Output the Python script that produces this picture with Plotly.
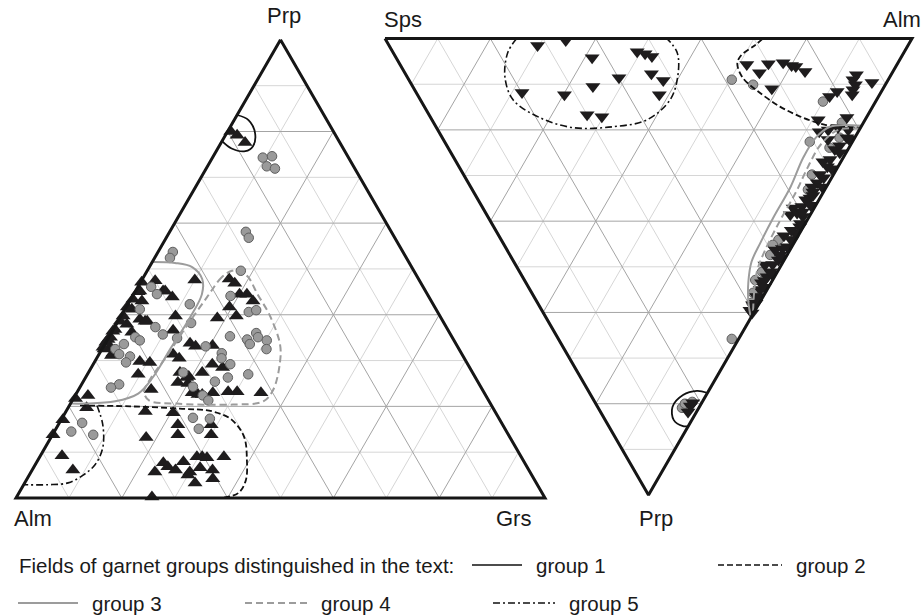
import math
import plotly.graph_objects as go

H = math.sqrt(3) / 2

# ---------------- garnet compositions (mol %) ----------------
# Prp - Alm - Grs diagram, tuples are (Prp, Alm, Grs)
left_triangles = [
    (80.0, 19.4, 0.6), (79.2, 18.6, 2.2), (77.6, 17.9, 4.5), (47.1, 52.7, 0.2),
    (47.4, 50.0, 2.6), (47.6, 42.4, 10.0), (45.2, 54.0, 0.8), (45.2, 49.6, 5.2),
    (43.9, 48.5, 7.6), (43.4, 56.2, 0.4), (43.0, 54.7, 2.3), (41.2, 57.5, 1.3),
    (39.7, 59.9, 0.4), (39.7, 50.0, 10.3), (39.0, 57.1, 3.9), (38.6, 55.9, 5.5),
    (37.9, 60.1, 2.0), (39.3, 42.3, 18.4), (47.8, 35.8, 16.4), (46.9, 35.2, 17.9),
    (44.5, 35.5, 20.0), (44.5, 34.1, 21.4), (43.0, 33.7, 23.3), (41.7, 38.8, 19.5),
    (39.7, 38.5, 21.8), (36.8, 62.9, 0.3), (36.6, 52.0, 11.4), (34.6, 65.3, 0.1),
    (32.9, 65.7, 1.4), (32.5, 67.1, 0.4), (31.6, 65.9, 2.5), (33.8, 50.2, 16.0),
    (33.1, 49.5, 17.4), (33.3, 46.2, 20.5), (31.4, 54.6, 14.0), (30.5, 53.9, 15.6),
    (29.8, 61.7, 8.5), (29.6, 59.9, 10.5), (29.2, 48.3, 22.5), (28.5, 46.7, 24.8),
    (27.0, 63.4, 9.6), (27.4, 55.3, 17.3), (26.5, 54.1, 19.4), (27.4, 51.1, 21.5),
    (25.2, 56.8, 18.0), (25.0, 55.0, 20.0), (23.7, 62.6, 13.7), (23.0, 55.2, 21.8),
    (22.6, 53.5, 23.9), (23.0, 51.3, 25.7), (23.2, 48.3, 28.5), (23.2, 46.6, 30.2),
    (23.0, 42.2, 34.8), (21.7, 77.9, 0.4), (22.4, 75.2, 2.4), (19.7, 76.8, 3.5),
    (18.9, 66.1, 15.0), (18.6, 61.0, 20.4), (16.0, 61.4, 22.6), (13.8, 62.5, 23.7),
    (16.0, 55.1, 28.9), (13.8, 56.2, 30.0), (13.2, 68.8, 18.0), (17.1, 82.6, 0.3),
    (13.8, 86.1, 0.1), (9.2, 86.7, 4.1), (6.1, 86.2, 7.7), (0.2, 74.2, 25.6),
    (5.7, 70.9, 23.4), (7.7, 68.3, 24.0), (6.8, 67.9, 25.3), (6.1, 66.8, 27.1),
    (7.9, 64.4, 27.7), (5.7, 64.3, 30.0), (9.0, 61.3, 29.7), (9.0, 60.3, 30.7),
    (8.8, 59.5, 31.7), (6.6, 61.9, 31.5), (6.1, 59.8, 34.1), (9.0, 56.2, 34.8),
    (3.3, 64.5, 32.2), (4.2, 60.7, 35.1), (5.0, 65.0, 30.0), (45.0, 54.4, 0.6),
    (41.7, 58.1, 0.2), (38.6, 61.0, 0.4), (36.4, 63.5, 0.1), (35.1, 64.6, 0.3),
    (34.0, 66.0, 0.0), (32.9, 67.1, 0.0), (31.1, 66.4, 2.5), (36.2, 60.0, 3.8),
    (45.2, 49.2, 5.6), (38.6, 56.3, 5.1), (22.6, 54.3, 23.1), (26.3, 54.6, 19.1),
]

left_circles = [
    (74.3, 16.2, 9.5), (74.6, 14.3, 11.1), (72.4, 16.4, 11.2), (71.9, 15.1, 13.0),
    (58.1, 27.5, 14.4), (56.8, 27.6, 15.6), (53.7, 43.5, 2.8), (52.4, 44.7, 2.9),
    (49.6, 32.7, 17.7), (46.1, 51.4, 2.5), (44.5, 51.1, 4.4), (44.1, 37.4, 18.5),
    (42.3, 46.0, 11.7), (41.2, 56.0, 2.8), (40.6, 35.7, 23.7), (41.0, 34.1, 24.9),
    (38.2, 47.8, 14.0), (37.3, 55.0, 7.7), (35.7, 54.4, 9.9), (35.1, 59.9, 5.0),
    (34.4, 59.4, 6.2), (34.9, 52.1, 13.0), (35.3, 41.9, 22.8), (34.6, 39.0, 26.4),
    (36.0, 36.6, 27.4), (35.1, 36.7, 28.2), (34.4, 35.4, 30.2), (33.6, 39.0, 27.4),
    (32.5, 36.4, 31.1), (33.6, 62.8, 3.6), (32.5, 65.0, 2.5), (31.4, 64.8, 3.8),
    (30.9, 63.0, 6.1), (29.6, 64.4, 6.0), (33.1, 47.6, 19.3), (31.6, 45.3, 23.1),
    (30.5, 45.9, 23.6), (29.2, 44.9, 25.9), (27.0, 42.6, 30.4), (26.3, 46.8, 26.9),
    (25.4, 49.7, 24.9), (27.4, 54.7, 17.9), (24.3, 54.4, 21.3), (22.4, 53.5, 24.1),
    (21.3, 53.0, 25.7), (24.8, 68.1, 7.1), (24.1, 70.0, 5.9), (17.5, 57.8, 24.7),
    (17.3, 54.7, 28.0), (15.1, 57.9, 27.0), (16.4, 79.3, 4.3), (14.5, 82.3, 3.2),
    (13.8, 78.5, 7.7),
]

# Sps - Alm - Prp diagram, tuples are (Sps, Alm, Prp)
right_triangles = [
    (70.3, 28.2, 1.5), (65.5, 34.1, 0.4), (58.6, 37.2, 4.2), (50.7, 46.4, 2.9),
    (49.0, 47.7, 3.3), (47.4, 48.7, 3.9), (45.6, 46.7, 7.7), (51.3, 40.1, 8.6),
    (42.6, 48.2, 9.2), (55.3, 34.2, 10.5), (68.1, 20.1, 11.8), (59.8, 27.9, 12.3),
    (41.8, 45.9, 12.3), (53.3, 30.0, 16.7), (50.3, 32.6, 17.1), (28.5, 65.8, 5.7),
    (25.2, 67.3, 7.5), (24.5, 70.0, 5.5), (21.8, 72.9, 5.3), (19.9, 74.2, 5.9),
    (19.0, 74.9, 6.1), (16.7, 76.1, 7.2), (21.1, 67.9, 11.0), (6.6, 85.5, 7.9),
    (6.7, 84.3, 9.0), (5.7, 84.2, 10.1), (2.8, 87.6, 9.6), (5.6, 83.2, 11.2),
    (5.2, 82.5, 12.3), (8.4, 80.0, 11.6), (9.3, 78.0, 12.7), (8.9, 73.3, 17.8),
    (3.7, 79.0, 17.3), (7.4, 72.2, 20.4), (5.9, 74.1, 20.0), (4.3, 76.2, 19.5),
    (2.1, 77.9, 20.0), (4.9, 73.0, 22.1), (1.5, 76.8, 21.7), (3.4, 69.6, 27.0),
    (2.0, 69.9, 28.1), (2.6, 67.6, 29.8), (2.2, 66.2, 31.6), (2.7, 64.8, 32.5),
    (2.0, 64.4, 33.6), (1.9, 63.2, 34.9), (4.0, 58.9, 37.1), (3.8, 57.6, 38.6),
    (2.7, 59.1, 38.2), (2.5, 60.7, 36.8), (1.2, 59.8, 39.0), (0.7, 58.1, 41.2),
    (1.0, 56.5, 42.5), (0.7, 55.2, 44.1), (0.9, 53.5, 45.6), (1.3, 51.3, 47.4),
    (1.1, 50.4, 48.5), (1.3, 47.6, 51.1), (1.4, 46.4, 52.2), (1.8, 44.7, 53.5),
    (1.3, 43.7, 55.0), (1.1, 42.3, 56.6), (1.1, 40.6, 58.3), (0.3, 39.6, 60.1),
    (1.8, 17.7, 80.5), (1.7, 18.5, 79.8), (1.6, 16.6, 81.8), (2.5, 73.2, 24.3),
    (2.7, 54.1, 43.2), (2.8, 50.9, 46.3), (2.5, 62.2, 35.3), (3.1, 47.3, 49.6),
    (1.0, 77.0, 22.0), (2.0, 74.5, 23.5), (1.2, 73.8, 25.0), (2.3, 71.2, 26.5),
    (1.0, 70.5, 28.5), (1.5, 68.0, 30.5), (0.8, 66.7, 32.5), (1.6, 64.0, 34.4),
    (1.0, 62.5, 36.5), (1.8, 60.2, 38.0), (0.9, 58.6, 40.5), (1.9, 56.1, 42.0),
    (1.0, 55.0, 44.0), (1.6, 52.4, 46.0), (0.8, 51.2, 48.0), (1.7, 48.8, 49.5),
    (0.9, 47.6, 51.5), (1.5, 45.5, 53.0), (0.8, 44.7, 54.5), (1.2, 42.3, 56.5),
    (0.6, 41.4, 58.0), (1.0, 39.5, 59.5),
]

right_circles = [
    (29.7, 61.3, 9.0), (25.1, 64.8, 10.1), (10.0, 76.2, 13.8), (4.1, 77.5, 18.4),
    (8.1, 69.3, 22.6), (3.7, 72.4, 23.9), (2.9, 75.4, 21.7), (2.5, 70.3, 27.2),
    (4.1, 66.1, 29.8), (3.2, 63.7, 33.1), (3.3, 52.6, 44.1), (3.8, 51.0, 45.2),
    (3.2, 49.4, 47.4), (2.9, 46.0, 51.1), (3.3, 43.8, 52.9), (2.3, 42.0, 55.7),
    (1.5, 40.6, 57.9), (1.3, 32.9, 65.8), (3.2, 15.9, 80.9), (3.1, 16.9, 80.0),
    (1.9, 18.5, 79.6),
]

# Field outlines of the garnet groups; vertices as (Prp, Grs) on the left
# diagram and (Prp, Alm) on the right diagram, Alm / Sps making up the balance
left_fields = {
    "group 1": [(83.6, 0), (82.5, 2.7), (79.6, 5.4), (76.8, 6.4), (75.7, 5.5),
                (76.3, 2.6), (77.9, 0)],
    "group 2": [(20.2, 2.0), (20.0, 11.6), (19.5, 21.2), (18.9, 27.7), (17.1, 32.2),
                (13.4, 36.4), (8.3, 39.5), (3.9, 41.5), (1.1, 41.5), (0, 38.9)],
    "group 3": [(51.5, 0), (51.3, 4.4), (50.4, 8.1), (47.8, 11.3), (44.5, 12.9),
                (39.5, 13.2), (32.5, 12.9), (26.3, 12.7), (22.8, 11.7), (21.1, 8.2),
                (20.6, 2.7), (20.6, 0.1)],
    "group 4": [(49.6, 16.0), (48.2, 14.8), (43.9, 14.2), (37.5, 13.5), (30.9, 13.0),
                (25.9, 12.4), (23.2, 12.6), (21.3, 14.5), (20.6, 20.1), (20.4, 30.8),
                (21.1, 36.2), (23.7, 36.8), (29.6, 35.1), (33.6, 33.1), (39.9, 28.0),
                (44.5, 23.4), (48.2, 19.8), (49.6, 17.5), (49.6, 16.0)],
    "group 5": [(20.2, 5.2), (16.0, 8.4), (11.0, 10.9), (7.2, 11.3), (5.0, 10.2),
                (3.3, 8.2), (2.9, 4.6), (2.9, 0.1)],
}
right_fields = {
    "group 1": [(77.6, 22.3), (77.2, 20.6), (78.1, 17.5), (80.7, 14.2), (83.6, 13.0),
                (84.9, 14.1), (84.9, 15.1)],
    "group 2": [(0, 71.7), (1.5, 69.4), (3.7, 65.7), (5.5, 64.1), (8.6, 63.6),
                (11.4, 64.9), (14.9, 67.5), (17.3, 70.6), (18.9, 74.1), (19.3, 77.7),
                (19.5, 80.5)],
    "group 3": [(19.1, 80.8), (19.3, 74.8), (21.7, 70.9), (26.1, 66.3), (32.5, 60.7),
                (39.0, 54.3), (44.7, 48.9), (48.9, 45.1), (53.3, 42.3), (57.7, 40.1),
                (60.7, 39.0)],
    "group 4": [(19.7, 80.3), (20.0, 76.0), (23.2, 71.1), (27.9, 66.4), (33.6, 61.2),
                (39.9, 55.0), (46.3, 49.0), (50.7, 45.3), (55.5, 42.3), (59.9, 39.9)],
    "group 5": [(0, 25.0), (2.9, 21.9), (8.3, 18.6), (13.4, 17.6), (17.3, 20.7),
                (19.5, 25.9), (19.3, 33.7), (17.8, 40.8), (13.4, 47.4), (8.3, 51.4),
                (3.1, 53.9), (0, 53.5)],
}

group_names = ["group 1", "group 2", "group 3", "group 4", "group 5"]
legend_title = "Fields of garnet groups distinguished in the text:"

# ---------------- styles ----------------
FONT = "Liberation Sans, Arial, sans-serif"
GREY_LINE = "#9c9c9c"
field_style = {
    "group 1": dict(color="#111111", width=1.8, dash="solid"),
    "group 2": dict(color="#111111", width=1.8, dash="6px,3px"),
    "group 3": dict(color=GREY_LINE, width=2.0, dash="solid"),
    "group 4": dict(color=GREY_LINE, width=2.0, dash="7px,4px"),
    "group 5": dict(color="#111111", width=1.6, dash="7px,3px,2px,3px"),
}
TRI_COLOR = "#1e1c1d"
CIRC_FILL = "#9a9a9a"
CIRC_EDGE = "#5f5f5f"
GRID_MAJOR = "#a4a4a4"
GRID_MINOR = "#d6d6d6"


# ---------------- ternary -> cartesian ----------------
def left_xy(prp, grs):
    """Prp at the apex, Alm bottom-left, Grs bottom-right."""
    return grs / 100 + prp / 200, prp / 100 * H


def right_xy(prp, alm):
    """Sps top-left, Alm top-right, Prp at the lower apex."""
    return alm / 100 + prp / 200, H * (1 - prp / 100)


def left_points(rows):
    xs, ys = [], []
    for prp, alm, grs in rows:
        s = prp + alm + grs
        x, y = left_xy(100 * prp / s, 100 * grs / s)
        xs.append(x)
        ys.append(y)
    return xs, ys


def right_points(rows):
    xs, ys = [], []
    for sps, alm, prp in rows:
        s = sps + alm + prp
        x, y = right_xy(100 * prp / s, 100 * alm / s)
        xs.append(x)
        ys.append(y)
    return xs, ys


def path(fn, verts):
    xs, ys = [], []
    for a, b in verts:
        x, y = fn(a, b)
        xs.append(x)
        ys.append(y)
    return xs, ys


def grid_segments(fn, levels):
    xs, ys = [], []
    for k in levels:
        for seg in (((k, 0), (k, 100 - k)),
                    ((0, k), (100 - k, k)),
                    ((0, 100 - k), (100 - k, 0))):
            for a, b in seg:
                x, y = fn(a, b)
                xs.append(x)
                ys.append(y)
            xs.append(None)
            ys.append(None)
    return xs, ys


fig = go.Figure()


def add_diagram(fn, ax, frame, triangles, circles, fields, tri_symbol, circles_on_top):
    xa, ya = ("x", "y") if ax == 1 else ("x2", "y2")
    for levels, col in (([10, 30, 50, 70, 90], GRID_MINOR), ([20, 40, 60, 80], GRID_MAJOR)):
        gx, gy = grid_segments(fn, levels)
        fig.add_trace(go.Scatter(x=gx, y=gy, mode="lines", xaxis=xa, yaxis=ya,
                                 line=dict(color=col, width=1), hoverinfo="skip",
                                 showlegend=False))
    tx, ty = triangles
    cx, cy = circles
    tri = go.Scatter(x=tx, y=ty, mode="markers", xaxis=xa, yaxis=ya, cliponaxis=False,
                     marker=dict(symbol=tri_symbol, size=13, color=TRI_COLOR,
                                 line=dict(width=0)), showlegend=False)
    circ = go.Scatter(x=cx, y=cy, mode="markers", xaxis=xa, yaxis=ya, cliponaxis=False,
                      marker=dict(symbol="circle", size=9.5, color=CIRC_FILL,
                                  line=dict(color=CIRC_EDGE, width=1)), showlegend=False)
    for tr in ((tri, circ) if circles_on_top else (circ, tri)):
        fig.add_trace(tr)
    for name in group_names:
        fx, fy = path(fn, fields[name])
        fig.add_trace(go.Scatter(x=fx, y=fy, mode="lines", xaxis=xa, yaxis=ya,
                                 line=dict(shape="spline", smoothing=1.0, **field_style[name]),
                                 name=name, showlegend=False, hoverinfo="skip"))
    fx, fy = path(fn, frame)
    fig.add_trace(go.Scatter(x=fx, y=fy, mode="lines", xaxis=xa, yaxis=ya,
                             line=dict(color="#161616", width=3), cliponaxis=False,
                             hoverinfo="skip", showlegend=False))


add_diagram(left_xy, 1, [(100, 0), (0, 0), (0, 100), (100, 0)],
            left_points(left_triangles), left_points(left_circles),
            left_fields, "triangle-up", True)
add_diagram(right_xy, 2, [(0, 0), (0, 100), (100, 0), (0, 0)],
            right_points(right_triangles), right_points(right_circles),
            right_fields, "triangle-down", False)

# ---------------- layout ----------------
W, HPX = 924, 616
PAD = 0.02


def domains(x0, ybot, side):
    xd = [(x0 - PAD * side) / W, (x0 + (1 + PAD) * side) / W]
    yd = [(HPX - ybot - PAD * side) / HPX, (HPX - ybot + (H + PAD) * side) / HPX]
    return xd, yd


lxd, lyd = domains(16, 498, 529)
rxd, ryd = domains(385, 495, 527)
axis_common = dict(visible=False, fixedrange=True)

fig.update_layout(
    width=W, height=HPX,
    margin=dict(l=0, r=0, t=0, b=0),
    paper_bgcolor="white", plot_bgcolor="rgba(0,0,0,0)",
    showlegend=False,
    xaxis=dict(domain=lxd, range=[-PAD, 1 + PAD], **axis_common),
    yaxis=dict(domain=lyd, range=[-PAD, H + PAD], **axis_common),
    xaxis2=dict(domain=rxd, range=[-PAD, 1 + PAD], anchor="y2", **axis_common),
    yaxis2=dict(domain=ryd, range=[-PAD, H + PAD], anchor="x2", **axis_common),
    font=dict(family=FONT, color="#1a1a1a"),
)

corner_font = dict(family=FONT, size=22, color="#1a1a1a")
corner_labels = [
    ("Prp", "x", "y", 0.5, H, 3, 24),
    ("Alm", "x", "y", 0.0, 0.0, 17, -20),
    ("Grs", "x", "y", 1.0, 0.0, -32, -20),
    ("Sps", "x2", "y2", 0.0, H, 18, 19),
    ("Alm", "x2", "y2", 1.0, H, -10, 19),
    ("Prp", "x2", "y2", 0.5, 0.0, 7, -23),
]
for text, xr, yr, x, y, dx, dy in corner_labels:
    fig.add_annotation(text=text, xref=xr, yref=yr, x=x, y=y, xshift=dx, yshift=dy,
                       showarrow=False, font=corner_font)

# ---------------- key of the field outlines ----------------
key_font = dict(family=FONT, size=20.5, color="#1a1a1a")
fig.add_annotation(text=legend_title, xref="paper", yref="paper", x=17 / W,
                   y=1 - 565 / HPX, xanchor="left", yanchor="middle",
                   showarrow=False, font=key_font)
key_rows = [  # (group, line start, line end, row centre), in pixels
    ("group 1", 472, 522, 565),
    ("group 2", 718, 782, 565),
    ("group 3", 18, 78, 603),
    ("group 4", 245, 307, 603),
    ("group 5", 493, 555, 603),
]
for name, xa, xb, yc in key_rows:
    st = field_style[name]
    fig.add_shape(type="line", xref="paper", yref="paper", x0=xa / W, x1=xb / W,
                  y0=1 - yc / HPX, y1=1 - yc / HPX,
                  line=dict(color=st["color"], width=1.6 if st["color"] != GREY_LINE else 2,
                            dash=st["dash"]))
    fig.add_annotation(text=name, xref="paper", yref="paper", x=(xb + 12) / W,
                       y=1 - yc / HPX, xanchor="left", yanchor="middle",
                       showarrow=False, font=key_font)

fig.write_html("out.html")
